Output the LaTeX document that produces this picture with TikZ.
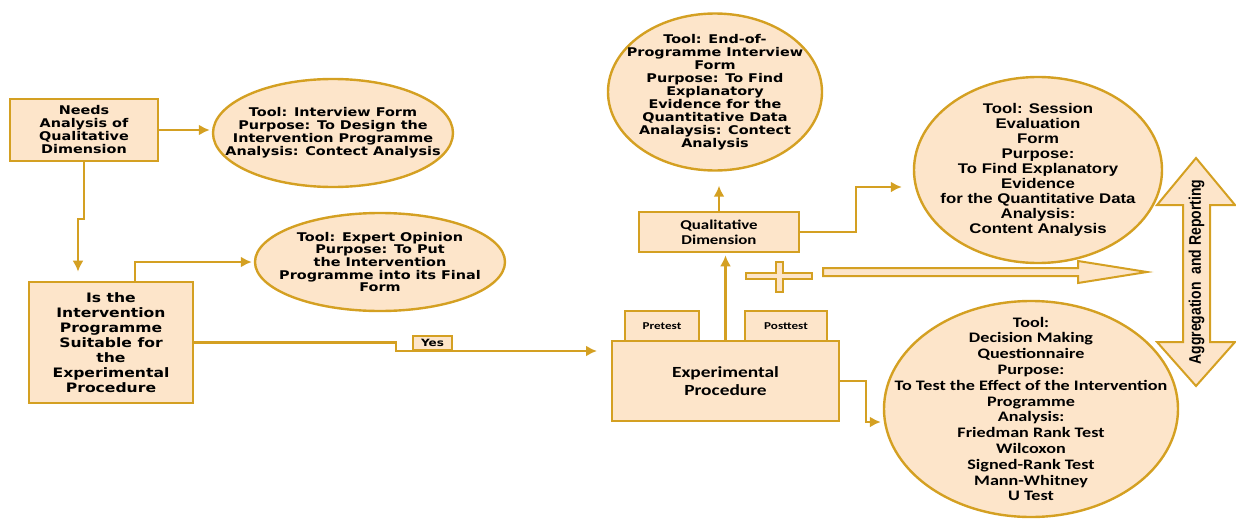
\documentclass[tikz,border=0pt]{standalone}
\usepackage{fontspec}
\usetikzlibrary{arrows.meta,%
                shapes.geometric}
\newfontfamily\verd[FakeStretch=1.2]{DejaVu Sans}
\newfontfamily\liber[FakeStretch=1.2]{Liberation Sans}
\newfontfamily\liberup{Liberation Sans}
\newfontfamily\calib[FakeStretch=1.25]{Carlito}
\definecolor{goldline}{RGB}{212,160,34}
\definecolor{peach}{RGB}{253,229,202}
\tikzstyle{dimbox}=[rectangle, draw=goldline, line width=2.6pt, fill=peach, inner sep=0pt, align=center]
\tikzstyle{toolell}=[ellipse, draw=goldline, line width=2.4pt, fill=peach, inner xsep=-40pt, inner ysep=-30pt, align=center]
\tikzstyle{flow}=[draw=goldline, line width=2.3pt, -{Latex[length=11pt,width=11pt]}, shorten >=2pt]
\tikzstyle{bigarrow}=[draw=goldline, line width=2pt, fill=peach, line join=miter]

\begin{document}
\begin{tikzpicture}[x=1pt,y=1pt]
  \useasboundingbox (0,0) rectangle (1236,-519);
  \tikzstyle{verdtext}=[font=\verd\bfseries\fontsize{12}{13}\selectfont]
  \tikzstyle{calibtext}=[font=\calib\bfseries\fontsize{13.5}{15}\selectfont]
  % left part
  \node[dimbox, verdtext, minimum width=148, minimum height=62] (needs) at (84,-130)
    {Needs\\Analysis of\\Qualitative\\Dimension};
  \node[toolell, verdtext, minimum width=240, minimum height=108] (interview) at (333,-133)
    {Tool: Interview Form\\Purpose: To Design the\\Intervention Programme\\Analysis: Contect Analysis};
  \node[dimbox, font=\verd\bfseries\fontsize{13}{15}\selectfont, minimum width=164, minimum height=121] (isbox) at (111,-342.5)
    {Is the\\Intervention\\Programme\\Suitable for\\the\\Experimental\\Procedure};
  \node[toolell, font=\verd\bfseries\fontsize{12}{12.7}\selectfont, minimum width=250, minimum height=98] (expert) at (380,-262)
    {Tool: Expert Opinion\\Purpose: To Put\\the Intervention\\Programme into its Final\\Form};
  % middle part
  \node[toolell, font=\verd\bfseries\fontsize{12}{13}\selectfont, minimum width=214, minimum height=157] (end) at (715,-92)
    {Tool: End-of-\\Programme Interview\\Form\\Purpose: To Find\\Explanatory\\Evidence for the\\Quantitative Data\\Analaysis: Contect\\Analysis};
  \node[dimbox, calibtext, minimum width=160, minimum height=40] (qual) at (719,-232)
    {Qualitative\\Dimension};
  \node[dimbox, font=\calib\bfseries\fontsize{10.5}{12}\selectfont, minimum width=74, minimum height=30] (pretest) at (662,-326) {Pretest};
  \node[dimbox, font=\calib\bfseries\fontsize{10.5}{12}\selectfont, minimum width=82, minimum height=30] (posttest) at (786,-326) {Posttest};
  \node[dimbox, font=\calib\bfseries\fontsize{15.5}{18}\selectfont, minimum width=227, minimum height=80] (exp) at (725.5,-381)
    {Experimental\\Procedure};
  \coordinate (expin) at (599,-351);
  % right part
  \node[toolell, font=\liber\bfseries\fontsize{14}{15}\selectfont, minimum width=248, minimum height=186] (session) at (1038,-170)
    {Tool: Session\\Evaluation\\Form\\Purpose:\\To Find Explanatory\\Evidence\\for the Quantitative Data\\Analysis:\\Content Analysis};
  \node[toolell, font=\calib\bfseries\fontsize{14.5}{15.8}\selectfont, minimum width=294, minimum height=216] (decision) at (1031,-409)
    {Tool:\\Decision Making\\Questionnaire\\Purpose:\\To Test the Effect of the Intervention\\Programme\\Analysis:\\Friedman Rank Test\\Wilcoxon\\Signed-Rank Test\\Mann-Whitney\\U Test};
  % plus sign and hollow arrow
  \draw[bigarrow] (746,-273) -- (776,-273) -- (776,-262) -- (783,-262) -- (783,-273) -- (812,-273)
    -- (812,-279) -- (783,-279) -- (783,-292) -- (776,-292) -- (776,-279) -- (746,-279) -- cycle;
  \draw[bigarrow] (823,-268) -- (1078,-268) -- (1078,-261) -- (1147,-272) -- (1078,-283)
    -- (1078,-276) -- (823,-276) -- cycle;
  % aggregation arrow
  \draw[bigarrow] (1196,-158) -- (1235,-205) -- (1210,-205) -- (1210,-342) -- (1235,-342) -- (1196,-386)
    -- (1157,-342) -- (1183,-342) -- (1183,-205) -- (1157,-205) -- cycle;
  \node[rotate=90, font=\liberup\bfseries\fontsize{14}{15}\selectfont] (aggr) at (1196.5,-272)
    {\scalebox{1}[1.2]{Aggregation\ \ and Reporting}};
  % connectors
  \draw[flow] (needs.east) -- (needs.east -| interview.west);
  \draw[flow, shorten >=9pt] (needs.south) -- ++(0,-57) -| ([xshift=-33pt]isbox.north);
  \draw[flow] ([xshift=24pt]isbox.north) |- (expert.west);
  \draw[flow] (isbox.east) -- ++(202,0) |- (expin);
  \node[dimbox, font=\verd\bfseries\fontsize{10}{12}\selectfont, minimum width=39, minimum height=14, line width=2pt, anchor=south] (yes) at (432.5,-351) {Yes};
  \draw[flow] (exp.north) -- (exp.north |- qual.south);
  \draw[flow, shorten >=14pt] (qual.north) -- (qual.north |- end.south);
  \draw[flow, shorten >=11pt] (qual.east) -- ++(56,0) |- ([yshift=-17pt]session.west);
  \draw[flow] (exp.east) -- ++(26,0) |- ([yshift=-13pt]decision.west);
\end{tikzpicture}
\end{document}
